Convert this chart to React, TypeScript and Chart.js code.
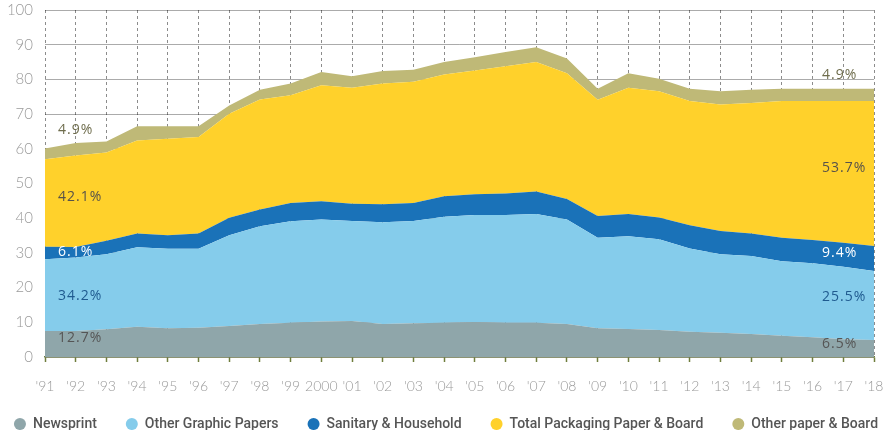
import React, { useEffect, useRef } from 'react';
import { Chart, registerables } from 'chart.js';

Chart.register(...registerables);

// ---- data ----
const years = ["'91", "'92", "'93", "'94", "'95", "'96", "'97", "'98", "'99", "2000", "'01", "'02", "'03", "'04", "'05", "'06", "'07", "'08", "'09", "'10", "'11", "'12", "'13", "'14", "'15", "'16", "'17", "'18"];

const newsprint = [7.5, 7.5, 8.0, 8.7, 8.3, 8.4, 8.9, 9.5, 9.9, 10.2, 10.4, 9.5, 9.7, 9.9, 10.1, 9.9, 9.9, 9.5, 8.3, 8.1, 7.8, 7.3, 7.0, 6.6, 6.1, 5.7, 5.1, 4.9];
const otherGraphic = [20.7, 21.2, 21.6, 22.9, 22.9, 22.8, 26.2, 28.2, 29.2, 29.4, 28.8, 29.3, 29.5, 30.5, 30.8, 31.0, 31.3, 30.1, 26.1, 26.7, 26.1, 24.0, 22.6, 22.5, 21.5, 21.3, 20.9, 19.9];
const sanitary = [3.6, 3.0, 3.9, 4.0, 3.9, 4.4, 5.0, 4.8, 5.3, 5.3, 5.0, 5.2, 5.2, 5.9, 6.0, 6.2, 6.5, 5.9, 6.2, 6.4, 6.3, 6.7, 6.7, 6.5, 6.8, 6.7, 6.9, 7.2];
const packaging = [25.2, 26.4, 25.4, 26.8, 27.8, 27.8, 30.0, 31.7, 31.0, 33.4, 33.4, 34.8, 34.9, 35.1, 35.7, 36.7, 37.3, 36.3, 33.5, 36.4, 36.4, 35.8, 36.5, 37.6, 39.4, 40.1, 40.9, 41.8];
const otherPaper = [3.1, 3.6, 3.2, 4.1, 3.6, 3.1, 2.4, 2.8, 3.4, 3.8, 3.3, 3.6, 3.5, 3.6, 3.8, 4.1, 4.3, 4.2, 3.2, 4.2, 3.6, 3.5, 3.8, 3.8, 3.5, 3.5, 3.5, 3.5];

const seriesNames = ['Newsprint', 'Other Graphic Papers', 'Sanitary & Household', 'Total Packaging Paper & Board', 'Other paper & Board'];

const yMin = 0;
const yMax = 100;
const yStep = 10;

// share labels (text, anchored year index, anchored value on y axis)
const shareTexts = ['4.9%', '42.1%', '6.1%', '34.2%', '12.7%', '4.9%', '53.7%', '9.4%', '25.5%', '6.5%'];
const shareYearIndex = [0, 0, 0, 0, 0, 27, 27, 27, 27, 27];
const shareValue = [65.3, 46.0, 30.2, 17.6, 5.5, 81.2, 54.4, 30.0, 17.3, 3.8];

// ---- styles ----
const colors = ['#8fa6aa', '#85cceb', '#1a72b8', '#ffd12b', '#bfb977'];
const shareColors = ['#6e6c4c', '#57524a', '#ffffff', '#1f5a8f', '#555555', '#6e6c4c', '#57524a', '#ffffff', '#1f5a8f', '#555555'];
const shareDx = [13, 13, 13, 13, 13, -52, -52, -52, -52, -52];

const shareLabelPlugin = {
  id: 'shareLabels',
  afterDatasetsDraw(chart: any) {
    const { ctx, scales } = chart;
    ctx.save();
    ctx.font = '14px "Open Sans"';
    try { (ctx as any).letterSpacing = '1px'; } catch (e) {}
    ctx.textAlign = 'left';
    ctx.textBaseline = 'middle';
    shareTexts.forEach((t, i) => {
      const x = scales.x.getPixelForValue(shareYearIndex[i]) + shareDx[i];
      const y = scales.y.getPixelForValue(shareValue[i]);
      ctx.fillStyle = shareColors[i];
      ctx.fillText(t, x, y);
    });
    ctx.restore();
  },
};

const legendFitPlugin = {
  id: 'legendFit',
  beforeInit(chart: any) {
    const legend = chart.legend;
    if (!legend) return;
    const origFit = legend.fit;
    legend.fit = function () {
      const mw = this.maxWidth;
      this.maxWidth = mw + 400;
      origFit.call(this);
      this.maxWidth = mw;
      this.width = mw;
      this.height = 42;
    };
    const origDraw = legend.draw;
    legend.draw = function () {
      const l = this.left;
      const r = this.right;
      const t = this.top;
      const b = this.bottom;
      this.left = l - 51;
      this.right = r + 69;
      this.top = t - 5;
      this.bottom = b - 5;
      origDraw.call(this);
      this.left = l;
      this.right = r;
      this.top = t;
      this.bottom = b;
    };
  },
};

export default function App() {
  const ref = useRef<HTMLCanvasElement>(null);

  useEffect(() => {
    const values = [newsprint, otherGraphic, sanitary, packaging, otherPaper];
    const chart = new Chart(ref.current as HTMLCanvasElement, {
      type: 'line',
      data: {
        labels: years,
        datasets: values.map((v, i) => ({
          label: seriesNames[i],
          data: v,
          backgroundColor: colors[i],
          borderColor: colors[i],
          borderWidth: 0,
          pointRadius: 0,
          pointHoverRadius: 0,
          pointStyle: 'circle',
          fill: i === 0 ? 'origin' : '-1',
          tension: 0,
        })),
      },
      options: {
        animation: false,
        responsive: true,
        maintainAspectRatio: false,
        layout: { padding: { top: 10, right: 20, left: 0, bottom: 0 } },
        plugins: {
          tooltip: { enabled: false },
          legend: {
            position: 'bottom',
            labels: {
              usePointStyle: true,
              boxWidth: 12,
              boxHeight: 8.5,
              padding: 29,
              color: '#555555',
              font: { family: 'Roboto', size: 14, weight: '500' },
            },
          },
        },
        scales: {
          x: {
            z: 1,
            grid: {
              color: 'rgba(0,0,0,0.45)',
              lineWidth: 1,
              tickColor: '#6f7d3c',
              tickLength: 5,
              tickWidth: 1.5,
              tickBorderDash: [],
            },
            border: { display: true, color: '#6f7d3c', width: 1.5, dash: [3, 3] },
            ticks: {
              color: '#9a9a9a',
              padding: 16,
              maxRotation: 0,
              autoSkip: false,
              font: { family: 'Lato', size: 14, weight: '300' },
            },
            afterFit(scale: any) {
              scale.height = 36;
              scale.paddingLeft = 0;
              scale.paddingRight = 0;
            },
          },
          y: {
            z: 1,
            stacked: true,
            min: yMin,
            max: yMax,
            grid: { color: 'rgba(0,0,0,0.33)', lineWidth: 1, drawTicks: false },
            border: { display: false },
            ticks: {
              stepSize: yStep,
              color: '#9a9a9a',
              padding: 12,
              font: { family: 'Lato', size: 15, weight: '300' },
            },
            afterFit(scale: any) {
              scale.width = 45;
              scale.paddingTop = 0;
              scale.paddingBottom = 0;
            },
          },
        },
      },
      plugins: [shareLabelPlugin, legendFitPlugin],
    } as any);
    return () => chart.destroy();
  }, []);

  return (
    <div style={{ position: 'absolute', left: 0, top: 0, width: 894, height: 435 }}>
      <canvas ref={ref} />
    </div>
  );
}
